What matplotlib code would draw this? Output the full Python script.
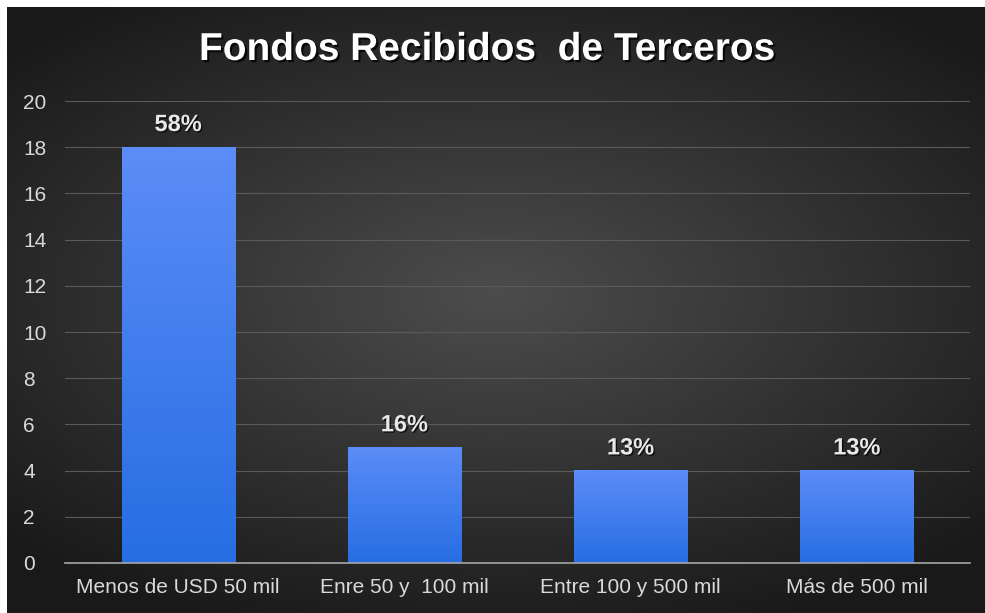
import numpy as np
import matplotlib.pyplot as plt
import matplotlib.patheffects as pe

categories = ['Menos de USD 50 mil', 'Enre 50 y  100 mil', 'Entre 100 y 500 mil', 'Más de 500 mil']
counts = [18, 5, 4, 4]
pct_labels = ['58%', '16%', '13%', '13%']
y_ticks = list(range(0, 21, 2))

plt.rcParams['font.family'] = ['Liberation Sans', 'DejaVu Sans']

W, H = 985, 613
fig = plt.figure(figsize=(W / 100, H / 100), dpi=100, facecolor='white')

# dark radial gradient background
bg = fig.add_axes([7 / W, 0, (W - 7) / W, (H - 7) / H])
yy, xx = np.mgrid[-1:1:300j, -1:1:480j]
r = np.sqrt((xx * 0.85) ** 2 + ((yy + 0.05) * 1.0) ** 2)
shade = np.clip(0.30 - 0.17 * r, 0.10, 0.30)
bg.imshow(np.dstack([shade] * 3), aspect='auto', extent=[0, 1, 0, 1])
bg.set_axis_off()

ax = fig.add_axes([65 / W, 50 / H, 905 / W, 462 / H])
ax.patch.set_alpha(0)
x = np.arange(len(categories))
bars = ax.bar(x, counts, width=0.5, color='none', zorder=3)

# vertical gradient fill inside each bar
grad = np.linspace(0, 1, 256).reshape(-1, 1)
top = np.array([0.36, 0.55, 0.97])
bot = np.array([0.15, 0.43, 0.89])
img = (bot + (top - bot) * grad[:, :, None]).reshape(256, 1, 3)
for b in bars:
    bx, bw, bh = b.get_x(), b.get_width(), b.get_height()
    ax.imshow(img, extent=[bx, bx + bw, 0, bh], origin='lower', aspect='auto', zorder=3)

for xi, c, lab in zip(x, counts, pct_labels):
    ax.text(xi, c + 0.98, lab, ha='center', va='center', fontsize=17, fontweight='bold',
            color='#e8e8e8', zorder=4,
            path_effects=[pe.withSimplePatchShadow(offset=(1, -1), shadow_rgbFace='black', alpha=0.7)])

ax.set_xlim(-0.5, len(categories) - 0.5)
ax.set_ylim(0, 20)
ax.set_yticks(y_ticks)
ax.set_xticks(x)
ax.set_xticklabels(categories)
ax.tick_params(axis='both', length=0, colors='#d9d9d9', labelsize=15)
ax.tick_params(axis='x', pad=11)
ax.tick_params(axis='y', pad=30)
for lbl in ax.get_yticklabels():
    lbl.set_horizontalalignment('left')
ax.grid(axis='y', color='#5a5a5a', linewidth=0.8, zorder=0)
for s in ['top', 'right', 'left']:
    ax.spines[s].set_visible(False)
ax.spines['bottom'].set_color('#a6a6a6')
ax.spines['bottom'].set_linewidth(1.2)
ax.spines['bottom'].set_zorder(5)

fig.text(487 / W, 1 - 50 / H, 'Fondos Recibidos  de Terceros', ha='center', va='center',
         fontsize=28, fontweight='bold', color='white',
         path_effects=[pe.withSimplePatchShadow(offset=(1.5, -1.5), shadow_rgbFace='black', alpha=0.8)])

fig.savefig('out.png', dpi=100, facecolor='white')
